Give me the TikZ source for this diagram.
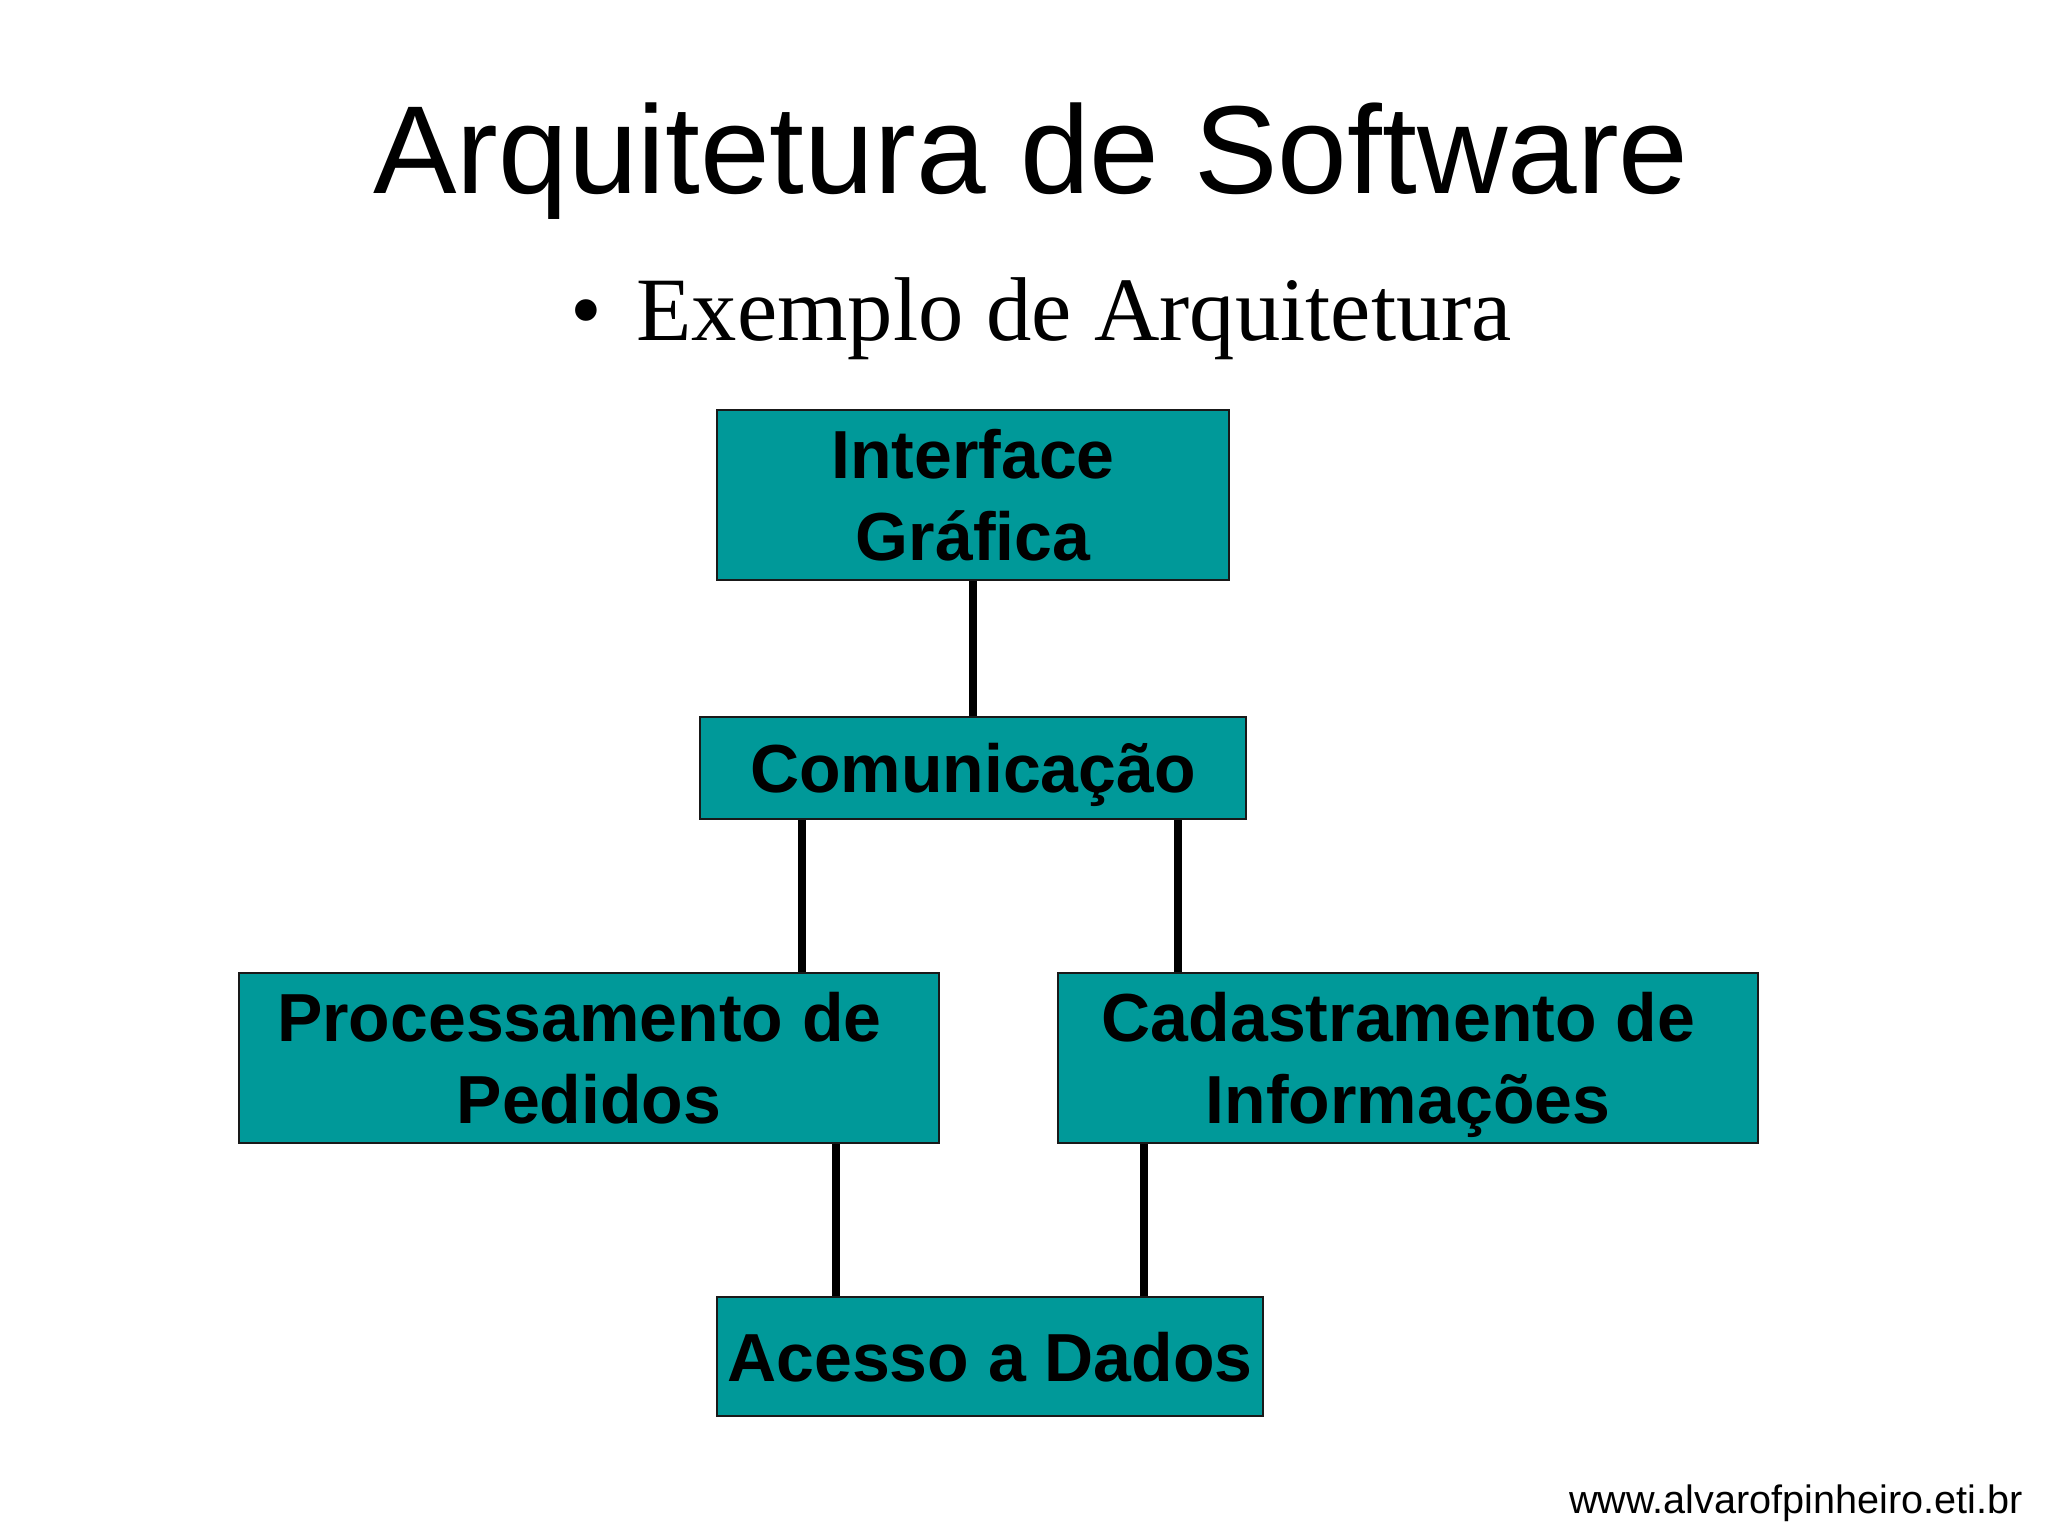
\documentclass[tikz,border=0pt]{standalone}
\usepackage{fontspec}
\setmainfont{Liberation Sans}
\newfontfamily\serifface{Liberation Serif}
\definecolor{boxteal}{HTML}{009999}
\begin{document}
\begin{tikzpicture}[x=0.5pt,y=-0.5pt,
  layerbox/.style={draw=black!90,line width=1pt,fill=boxteal,inner sep=0pt,align=center,
    text depth=0pt,font=\fontsize{34}{41}\selectfont\bfseries},
  link/.style={line width=4pt,draw=black}]
\useasboundingbox[fill=white] (0,0) rectangle (2048,1536);
\node[anchor=base,inner sep=0pt,font=\fontsize{62.6}{70}\selectfont] (title) at (1031,193) {Arquitetura de Software};
\node[anchor=base west,inner sep=0pt,font=\serifface\fontsize{45.3}{50}\selectfont] (bullet) at (570,340) {•};
\node[anchor=base west,inner sep=0pt,font=\serifface\fontsize{45.3}{50}\selectfont] (sub) at (636,340) {Exemplo de Arquitetura};
\node[layerbox,minimum width=256pt,minimum height=85pt] (ig) at (973,495) {Interface\\Gráfica};
\node[layerbox,minimum width=273pt,minimum height=51pt] (com) at (973,768) {Comunicação};
\node[layerbox,minimum width=350pt,minimum height=85pt] (proc) at (589,1058) {Processamento de\kern0.28em\\Pedidos};
\node[layerbox,minimum width=350pt,minimum height=85pt] (cad) at (1408,1058) {Cadastramento de\kern0.28em\\Informações};
\node[layerbox,minimum width=273pt,minimum height=59.5pt] (acc) at (990,1356.5) {Acesso a Dados};
\coordinate (xa) at (802,0);
\coordinate (xb) at (1178,0);
\coordinate (xc) at (836,0);
\coordinate (xd) at (1144,0);
\draw[link] (ig.south) -- (com.north);
\draw[link] (com.south -| xa) -- (proc.north -| xa);
\draw[link] (com.south -| xb) -- (cad.north -| xb);
\draw[link] (proc.south -| xc) -- (acc.north -| xc);
\draw[link] (cad.south -| xd) -- (acc.north -| xd);
\node[anchor=base east,inner sep=0pt,font=\fontsize{19.8}{22}\selectfont] (footer) at (2023,1513) {www.alvarofpinheiro.eti.br};
\end{tikzpicture}
\end{document}
